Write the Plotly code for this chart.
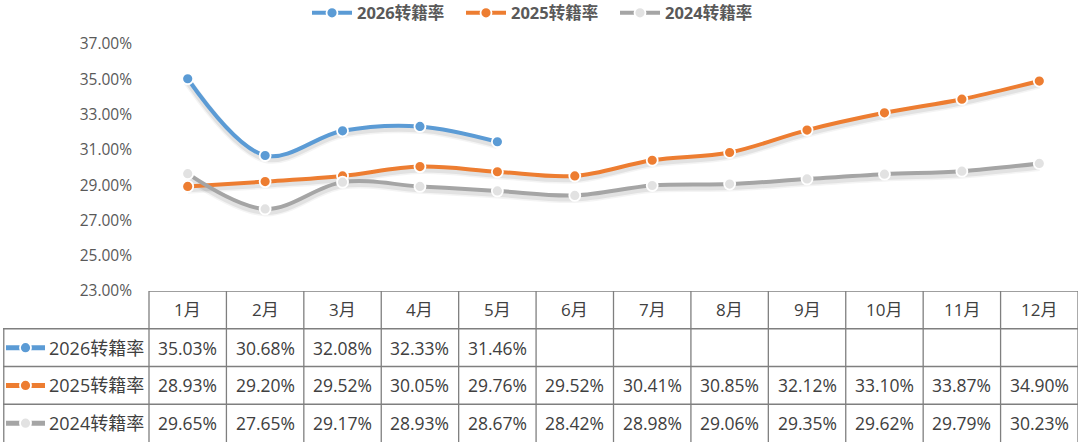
import plotly.graph_objects as go

# ---------------- data ----------------
months = ["1月", "2月", "3月", "4月", "5月", "6月", "7月", "8月", "9月", "10月", "11月", "12月"]
series_names = ["2026转籍率", "2025转籍率", "2024转籍率"]
rate_2026 = [35.03, 30.68, 32.08, 32.33, 31.46, None, None, None, None, None, None, None]
rate_2025 = [28.93, 29.20, 29.52, 30.05, 29.76, 29.52, 30.41, 30.85, 32.12, 33.10, 33.87, 34.90]
rate_2024 = [29.65, 27.65, 29.17, 28.93, 28.67, 28.42, 28.98, 29.06, 29.35, 29.62, 29.79, 30.23]
y_ticks = [23, 25, 27, 29, 31, 33, 35, 37]

# ---------------- style / layout ----------------
W, H = 1080, 442
PLOT_L, PLOT_R, TABLE_L = 149, 1078, 3
Y_TOP_PX, Y_BOT_PX = 44, 291
COL_W = (PLOT_R - PLOT_L) / 12
X_MIN = -0.5 - (PLOT_L - TABLE_L) / COL_W
X_MAX = 11.5
Y_RANGE = [23, 37]
PX_PER_UNIT = (Y_BOT_PX - Y_TOP_PX) / (Y_RANGE[1] - Y_RANGE[0])
SHADOW_DY = 3 / PX_PER_UNIT  # shadow offset (3 px) via a shifted axis

colors = ["#5B9BD5", "#ED7D31", "#A5A5A5"]
marker_fill = ["#5B9BD5", "#ED7D31", "#E2E2E2"]
series = [rate_2026, rate_2025, rate_2024]
FONT = "Open Sans, Noto Sans CJK SC, sans-serif"
TXT = "#404040"
GRID = "#7F7F7F"


def px2x(px):
    return X_MIN + (px - TABLE_L) / COL_W


fig = go.Figure()
x_idx = list(range(len(months)))

# soft shadows (base axis y, shifted range -> drawn a few px lower, below main lines)
for vals in series:
    for w, a in [(9, 0.045), (6, 0.07)]:
        fig.add_trace(go.Scatter(
            x=x_idx, y=vals, mode="lines", showlegend=False, hoverinfo="skip",
            line=dict(color=f"rgba(0,0,0,{a})", width=w, shape="spline", smoothing=1.0),
            xaxis="x", yaxis="y", connectgaps=False,
        ))

# main lines (overlay axis y3)
for name, vals, c, mf in zip(series_names, series, colors, marker_fill):
    fig.add_trace(go.Scatter(
        x=x_idx, y=vals, name=name, mode="lines+markers",
        line=dict(color=c, width=4, shape="spline", smoothing=1.0),
        marker=dict(size=11, color=mf, line=dict(color="white", width=1.8)),
        xaxis="x", yaxis="y3", connectgaps=False,
    ))

# ---------------- table (on x / y2) ----------------
shapes = []
line_style = dict(color=GRID, width=1.3)
for i in range(13):
    xv = -0.5 + i
    shapes.append(dict(type="line", xref="x", yref="y2", x0=xv, x1=xv, y0=-0.2, y1=4,
                       line=line_style, layer="above"))
shapes.append(dict(type="line", xref="x", yref="y2", x0=X_MIN + 0.01, x1=X_MIN + 0.01, y0=-0.2, y1=3,
                   line=line_style, layer="above"))
shapes.append(dict(type="line", xref="x", yref="y2", x0=-0.5, x1=X_MAX, y0=4, y1=4, line=line_style))
for yv in [3, 2, 1]:
    shapes.append(dict(type="line", xref="x", yref="y2", x0=X_MIN, x1=X_MAX, y0=yv, y1=yv, line=line_style))

annotations = []
for i, m in enumerate(months):
    annotations.append(dict(x=i, y=3.5, xref="x", yref="y2", text=m, showarrow=False,
                            font=dict(family=FONT, size=17, color=TXT)))
row_y = [2.5, 1.5, 0.5]
for name, vals, c, mf, ry in zip(series_names, series, colors, marker_fill, row_y):
    for i, v in enumerate(vals):
        if v is not None:
            annotations.append(dict(x=i, y=ry, xref="x", yref="y2", text=f"{v:.2f}%", showarrow=False,
                                    font=dict(family=FONT, size=17.5, color=TXT)))
    annotations.append(dict(x=px2x(47), y=ry, xref="x", yref="y2", text=name, showarrow=False,
                            xanchor="left", font=dict(family=FONT, size=18, color=TXT)))
    fig.add_trace(go.Scatter(x=[px2x(6), px2x(45)], y=[ry, ry], mode="lines",
                             line=dict(color=c, width=5), showlegend=False, hoverinfo="skip",
                             xaxis="x", yaxis="y2"))
    fig.add_trace(go.Scatter(x=[px2x(25.5)], y=[ry], mode="markers",
                             marker=dict(size=11, color=mf, line=dict(color="white", width=1.8)),
                             showlegend=False, hoverinfo="skip", xaxis="x", yaxis="y2"))

y_bot = 1 - Y_BOT_PX / H
y_top = 1 - Y_TOP_PX / H

fig.update_layout(
    width=W, height=H,
    margin=dict(l=0, r=0, t=0, b=0, autoexpand=False),
    paper_bgcolor="white", plot_bgcolor="white",
    font=dict(family=FONT, color="#595959"),
    showlegend=True,
    legend=dict(orientation="h", x=307 / W, xanchor="left", y=1.01, yanchor="top",
                font=dict(family=FONT, size=16.5, color="#595959", weight="bold"),
                itemwidth=40, entrywidth=99, tracegroupgap=0, bgcolor="rgba(0,0,0,0)"),
    xaxis=dict(domain=[TABLE_L / W, PLOT_R / W], range=[X_MIN, X_MAX], visible=False,
               anchor="y2", fixedrange=True, automargin=False),
    yaxis=dict(domain=[y_bot, y_top], range=[Y_RANGE[0] + SHADOW_DY, Y_RANGE[1] + SHADOW_DY],
               visible=False, anchor="x", automargin=False),
    yaxis3=dict(range=Y_RANGE, tickvals=y_ticks, overlaying="y",
                ticktext=[f"{t:.2f}%" for t in y_ticks],
                anchor="free", position=PLOT_L / W, showgrid=False, zeroline=False, showline=False,
                ticks="", ticklabelstandoff=17, automargin=False,
                tickfont=dict(family=FONT, size=15.5, color="#595959")),
    yaxis2=dict(domain=[0, y_bot], range=[0, 4], visible=False, anchor="x", automargin=False),
    shapes=shapes,
    annotations=annotations,
)

fig.write_html("out.html")
